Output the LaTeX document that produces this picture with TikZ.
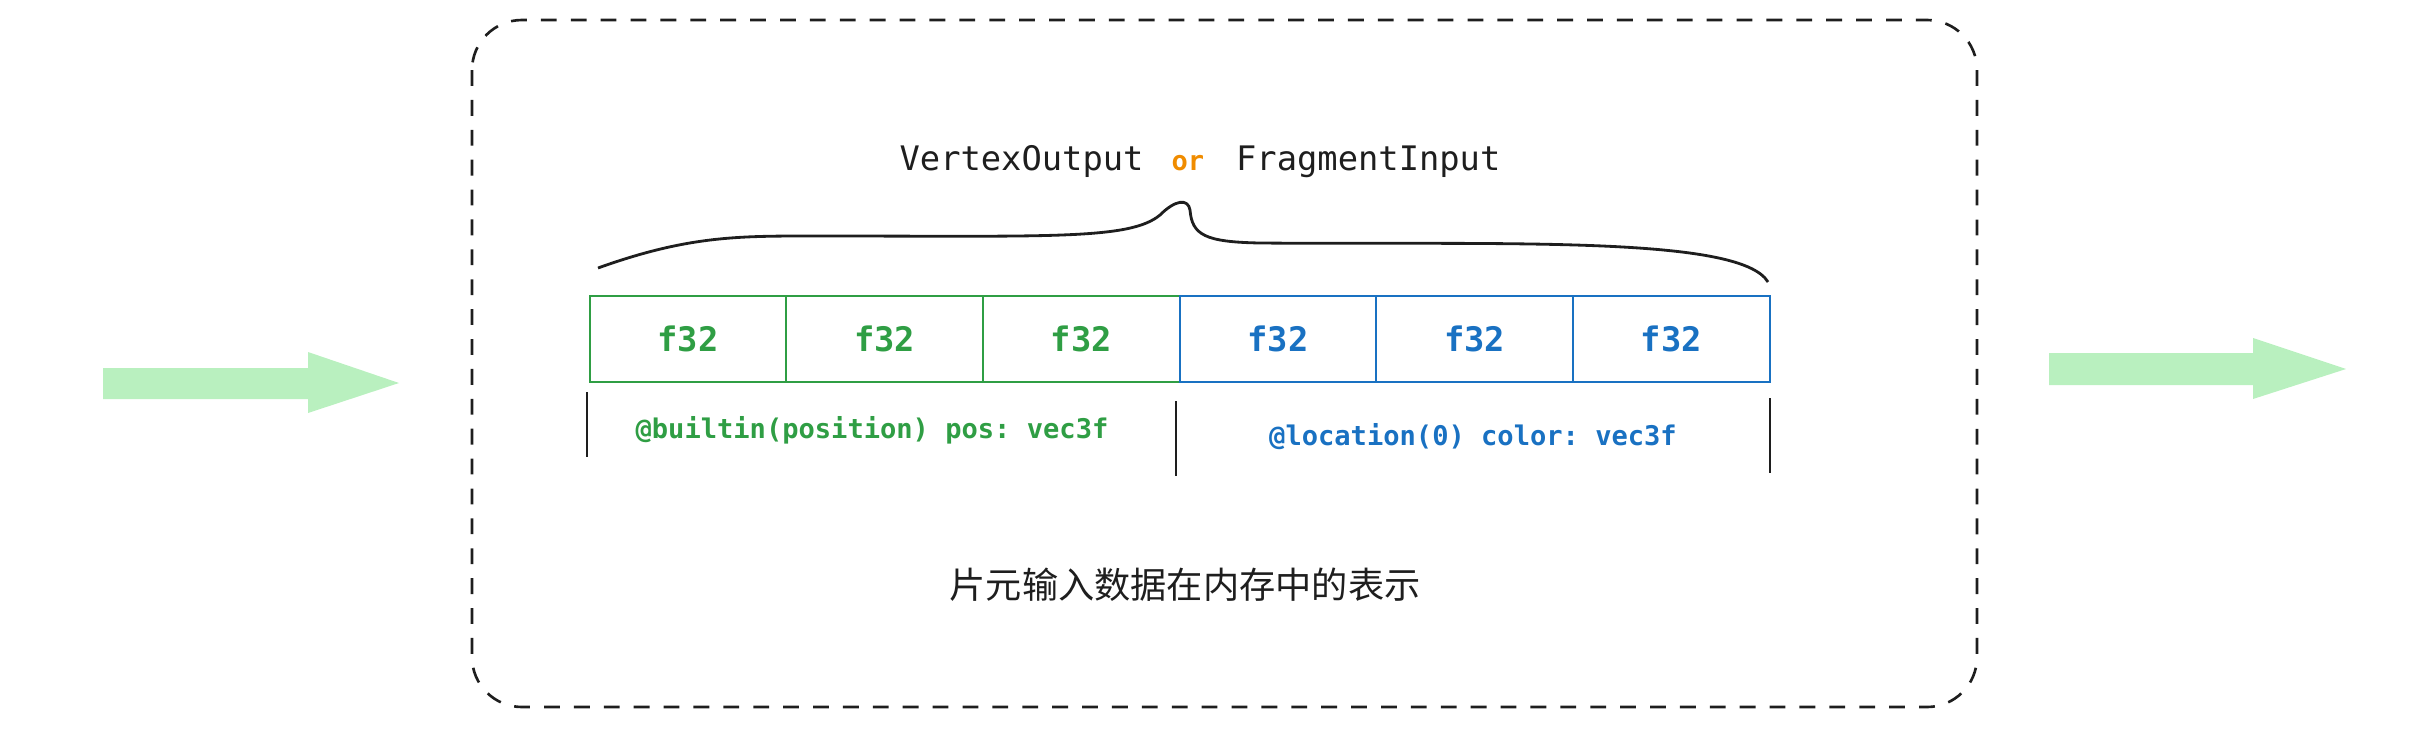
\documentclass[tikz,border=0pt]{standalone}
\usepackage{fontspec}
\setmonofont{DejaVu Sans Mono}
\newfontfamily\cjkfont{Noto Sans CJK SC}
\definecolor{inkblack}{HTML}{1E1E1E}
\definecolor{fieldgreen}{HTML}{2F9E44}
\definecolor{fieldblue}{HTML}{1971C2}
\definecolor{ororange}{HTML}{F08C00}
\definecolor{flowgreen}{HTML}{B9F0BF}
\tikzset{
  cell/.style={draw=#1, text=#1, line width=0.6pt, minimum width=1.967cm,
    minimum height=0.86cm, inner sep=0pt,
    font=\ttfamily\bfseries\fontsize{9.6}{11}\selectfont},
  field/.style={text=#1, inner sep=0pt,
    font=\ttfamily\bfseries\fontsize{7.7}{9}\selectfont},
  flow/.style={fill=flowgreen},
}
\begin{document}
\begin{tikzpicture}[x=0.01cm, y=-0.01cm]
      \useasboundingbox (0,0) rectangle (2428,730);
      \draw [inkblack, line width=0.75pt, dash pattern=on 4.5pt off 4pt, rounded corners=0.5cm] (472,20) rectangle (1977,707);
      \fill [flow] (103,368) -- (308,368) -- (308,352) -- (399,383) -- (308,413) -- (308,399) -- (103,399) -- cycle;
      \fill [flow] (2049,353) -- (2253,353) -- (2253,338) -- (2346,369) -- (2253,399) -- (2253,385) -- (2049,385) -- cycle;
      \node [text=inkblack, font=\ttfamily\fontsize{9.6}{11}\selectfont] (title) at (1200,162)
            {VertexOutput\hspace{0.28cm}\textcolor{ororange}{\bfseries\fontsize{7.7}{9}\selectfont or}\hspace{0.32cm}FragmentInput};
      \draw [inkblack, line width=0.8pt] (598,268) .. controls (690,235) and (740,236) .. (820,236)
            .. controls (1050,236) and (1130,240) .. (1160,215)
            .. controls (1175,200) and (1188,198) .. (1190,210)
            .. controls (1192,235) and (1205,242) .. (1260,243)
            .. controls (1500,245) and (1740,235) .. (1768,282);
      \foreach \i/\c in {1/fieldgreen,2/fieldgreen,3/fieldgreen,4/fieldblue,5/fieldblue,6/fieldblue}
        \node [cell=\c] (f\i) at ({491.33+196.67*\i},339) {f32};
      \draw [inkblack, line width=0.6pt] (587,392) -- (587,457);
      \draw [inkblack, line width=0.6pt] (1176,401) -- (1176,476);
      \draw [inkblack, line width=0.6pt] (1770,398) -- (1770,473);
      \node [field=fieldgreen] (pos) at (872,430) {@builtin(position) pos: vec3f};
      \node [field=fieldblue] (color) at (1473,437) {@location(0) color: vec3f};
      \node [text=inkblack, font=\cjkfont\fontsize{10.3}{12}\selectfont] (caption) at (1185,585) {片元输入数据在内存中的表示};
\end{tikzpicture}
\end{document}
